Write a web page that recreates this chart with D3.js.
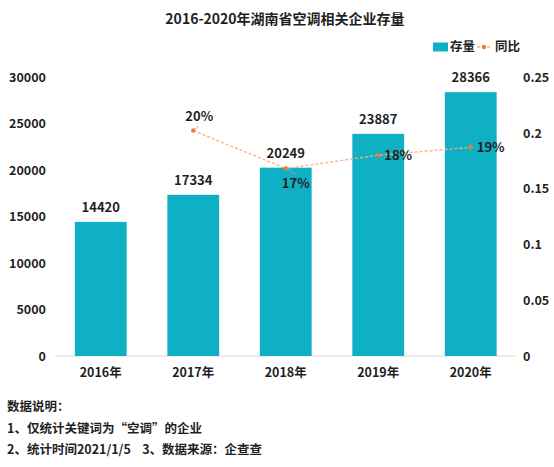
<!DOCTYPE html>
<html>
<head>
<meta charset="utf-8">
<script src="https://cdn.jsdelivr.net/npm/d3@7"></script>
<style>
  body { margin: 0; background: #fff; }
  svg text { font-family: "Noto Sans CJK SC", "Noto Sans", sans-serif; fill: #1f1f1f; }
</style>
</head>
<body>
<div id="chart"></div>
<script>
// chart values
var years = ["2016年", "2017年", "2018年", "2019年", "2020年"];
var stock = [14420, 17334, 20249, 23887, 28366];
var growth = [null, 0.202, 0.168, 0.180, 0.187];
var growthLabels = [null, "20%", "17%", "18%", "19%"];
var leftTicks = [0, 5000, 10000, 15000, 20000, 25000, 30000];
var rightTicks = [0, 0.05, 0.1, 0.15, 0.2, 0.25];
var notes = ["数据说明：", "1、仅统计关键词为“空调”的企业", "2、统计时间2021/1/5\u00a0\u00a0\u00a0 3、数据来源：企查查"];

var width = 554, height = 467;
var barColor = "#0fafc4", lineColor = "#f4b183", dotColor = "#ed7d31";

var svg = d3.select("#chart").append("svg")
  .attr("width", width)
  .attr("height", height);

var x = d3.scaleBand().domain(years).range([54.5, 517]).paddingInner(0.44).paddingOuter(0.22);
var yL = d3.scaleLinear().domain([0, 30000]).range([356, 77]);
var yR = d3.scaleLinear().domain([0, 0.25]).range([356, 77]);

// title
svg.append("text")
  .attr("x", 285).attr("y", 24)
  .attr("text-anchor", "middle")
  .style("font-size", "14px").style("font-weight", "bold")
  .text("2016-2020年湖南省空调相关企业存量");

// left axis
var axisL = svg.append("g").attr("transform", "translate(46,0)")
  .call(d3.axisLeft(yL).tickValues(leftTicks).tickSize(0).tickPadding(0).tickFormat(d3.format("d")));
axisL.select(".domain").remove();
axisL.selectAll("text").style("font-size", "12.5px").style("font-weight", "bold").attr("dy", "0.35em");

// right axis
var axisR = svg.append("g").attr("transform", "translate(523,0)")
  .call(d3.axisRight(yR).tickValues(rightTicks).tickSize(0).tickPadding(0)
    .tickFormat(function (d) { return String(+d.toFixed(2)); }));
axisR.select(".domain").remove();
axisR.selectAll("text").style("font-size", "12.5px").style("font-weight", "bold").attr("dy", "0.35em");

// baseline
svg.append("line")
  .attr("x1", 55).attr("x2", 516)
  .attr("y1", yL(0)).attr("y2", yL(0))
  .attr("stroke", "#d9d9d9").attr("stroke-width", 1);

// x axis labels
svg.selectAll("text.year").data(years).enter().append("text")
  .attr("class", "year")
  .attr("x", function (d) { return x(d) + x.bandwidth() / 2; })
  .attr("y", 373)
  .attr("dy", "0.35em")
  .attr("text-anchor", "middle")
  .style("font-size", "12.5px").style("font-weight", "bold")
  .text(function (d) { return d; });

// bars
svg.selectAll("rect.bar").data(stock).enter().append("rect")
  .attr("class", "bar")
  .attr("x", function (d, i) { return x(years[i]); })
  .attr("y", function (d) { return yL(d); })
  .attr("width", x.bandwidth())
  .attr("height", function (d) { return yL(0) - yL(d); })
  .attr("fill", barColor);

// bar labels
svg.selectAll("text.barlabel").data(stock).enter().append("text")
  .attr("class", "barlabel")
  .attr("x", function (d, i) { return x(years[i]) + x.bandwidth() / 2; })
  .attr("y", function (d) { return yL(d) - 10; })
  .attr("text-anchor", "middle")
  .style("font-size", "13px").style("font-weight", "bold")
  .text(function (d) { return d; });

// growth line
var pts = growth.map(function (g, i) { return { year: years[i], value: g, label: growthLabels[i] }; })
  .filter(function (d) { return d.value != null; });

var line = d3.line()
  .x(function (d) { return x(d.year) + x.bandwidth() / 2; })
  .y(function (d) { return yR(d.value); });

svg.append("path")
  .datum(pts)
  .attr("d", line)
  .attr("fill", "none")
  .attr("stroke", lineColor)
  .attr("stroke-width", 1.3)
  .attr("stroke-dasharray", "3,2");

svg.selectAll("circle.dot").data(pts).enter().append("circle")
  .attr("class", "dot")
  .attr("cx", function (d) { return x(d.year) + x.bandwidth() / 2; })
  .attr("cy", function (d) { return yR(d.value); })
  .attr("r", 2.2)
  .attr("fill", dotColor);

// label placement for the growth labels (dx, dy from the point, anchor)
var labelPlace = [[6, -14, "middle"], [10, 15, "middle"], [6, 0, "start"], [6, 0, "start"]];

// small leader lines for the first two labels
var leaders = [[[1, -1], [5, -4]], [[0, 0], [11, 6]]];
leaders.forEach(function (seg, i) {
  var d = pts[i];
  var cx = x(d.year) + x.bandwidth() / 2, cy = yR(d.value);
  svg.append("line")
    .attr("x1", cx + seg[0][0]).attr("y1", cy + seg[0][1])
    .attr("x2", cx + seg[1][0]).attr("y2", cy + seg[1][1])
    .attr("stroke", "#a6a6a6").attr("stroke-width", 0.8);
});

svg.selectAll("text.growth").data(pts).enter().append("text")
  .attr("class", "growth")
  .attr("x", function (d, i) { return x(d.year) + x.bandwidth() / 2 + labelPlace[i][0]; })
  .attr("y", function (d, i) { return yR(d.value) + labelPlace[i][1]; })
  .attr("dy", "0.35em")
  .attr("text-anchor", function (d, i) { return labelPlace[i][2]; })
  .style("font-size", "13px").style("font-weight", "bold")
  .text(function (d) { return d.label; });

// legend
var legend = svg.append("g");
legend.append("rect")
  .attr("x", 433).attr("y", 42.5).attr("width", 15).attr("height", 9)
  .attr("fill", barColor);
legend.append("text")
  .attr("x", 450).attr("y", 47).attr("dy", "0.35em")
  .style("font-size", "12.5px").style("font-weight", "bold")
  .text("存量");
legend.append("line")
  .attr("x1", 477).attr("x2", 491).attr("y1", 47).attr("y2", 47)
  .attr("stroke", lineColor).attr("stroke-width", 1.3).attr("stroke-dasharray", "3,2");
legend.append("circle")
  .attr("cx", 484).attr("cy", 47).attr("r", 2.2).attr("fill", dotColor);
legend.append("text")
  .attr("x", 495).attr("y", 47).attr("dy", "0.35em")
  .style("font-size", "12.5px").style("font-weight", "bold")
  .text("同比");

// footnotes
svg.selectAll("text.note").data(notes).enter().append("text")
  .attr("class", "note")
  .attr("x", 7)
  .attr("y", function (d, i) { return 407 + i * 21.5; })
  .attr("dy", "0.35em")
  .style("font-size", "12.5px").style("font-weight", "bold")
  .text(function (d) { return d; });
</script>
</body>
</html>
